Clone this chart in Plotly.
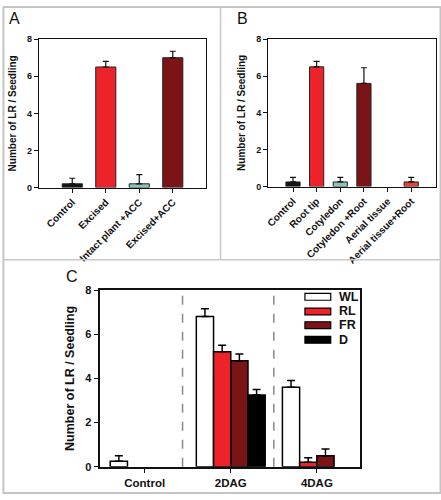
import plotly.graph_objects as go

# ---- Data ----
a_cats = ["Control", "Excised", "Intact plant +ACC", "Excised+ACC"]
a_vals = [0.2, 6.5, 0.2, 7.0]
a_errs = [0.3, 0.3, 0.5, 0.35]
a_colors = ["#151515", "#ee2229", "#8ec3bb", "#7a1416"]

b_cats = ["Control", "Root tip", "Cotyledon", "Cotyledon +Root", "Aerial tissue", "Aerial tissue+Root"]
b_vals = [0.25, 6.5, 0.25, 5.6, 0.0, 0.25]
b_errs = [0.25, 0.3, 0.25, 0.85, 0.0, 0.25]
b_colors = ["#151515", "#ee2229", "#8ec3bb", "#7a1416", "#ffffff", "#e2443c"]

c_groups = ["Control", "2DAG", "4DAG"]
c_series = ["WL", "RL", "FR", "D"]
c_vals = {
    "WL": [0.25, 6.8, 3.6],
    "RL": [0.0, 5.2, 0.2],
    "FR": [0.0, 4.8, 0.5],
    "D": [0.0, 3.25, 0.0],
}
c_errs = {
    "WL": [0.25, 0.35, 0.3],
    "RL": [0.0, 0.3, 0.2],
    "FR": [0.0, 0.3, 0.3],
    "D": [0.0, 0.25, 0.0],
}
c_colors = {"WL": "#ffffff", "RL": "#ee2229", "FR": "#7a1416", "D": "#000000"}
y_ticks = [0, 2, 4, 6, 8]

W, H = 441, 500
FONT = "Liberation Sans, Arial, sans-serif"


def px_x(v):
    return v / W


def px_y(v):
    return 1 - v / H


def nz(vals):
    # zero-height bars are not drawn in the original
    return [v if v > 0 else None for v in vals]


fig = go.Figure()

# Panel A
fig.add_trace(go.Bar(
    x=a_cats, y=nz(a_vals), xaxis="x", yaxis="y", width=0.6,
    marker=dict(color=a_colors, line=dict(color="#222222", width=1)),
    error_y=dict(type="data", symmetric=False, array=a_errs, arrayminus=[0] * len(a_errs),
                 color="#111111", thickness=1.2, width=3),
    showlegend=False))

# Panel B
fig.add_trace(go.Bar(
    x=b_cats, y=nz(b_vals), xaxis="x2", yaxis="y2", width=0.6,
    marker=dict(color=b_colors, line=dict(color="#222222", width=1)),
    error_y=dict(type="data", symmetric=False, array=b_errs, arrayminus=[0] * len(b_errs),
                 color="#111111", thickness=1.2, width=3),
    showlegend=False))

# Panel C
for s in c_series:
    fig.add_trace(go.Bar(
        x=c_groups, y=nz(c_vals[s]), name=s, xaxis="x3", yaxis="y3",
        marker=dict(color=c_colors[s], line=dict(color="#000000", width=1.5)),
        error_y=dict(type="data", symmetric=False, array=c_errs[s], arrayminus=[0] * 3,
                     color="#000000", thickness=1.5, width=4),
        showlegend=False))

tickfont_ab = dict(family=FONT, size=10, color="#111111", weight="bold")
axis_common = dict(showline=True, linecolor="#111111", linewidth=1, mirror=True,
                   showgrid=False, zeroline=False, ticks="outside", ticklen=4,
                   tickcolor="#111111")

fig.update_layout(
    width=W, height=H,
    margin=dict(l=0, r=0, t=0, b=0),
    paper_bgcolor="#ffffff", plot_bgcolor="#ffffff",
    barmode="group", bargap=0.2, bargroupgap=0,
    font=dict(family=FONT, color="#111111"),
    xaxis=dict(domain=[px_x(36), px_x(204)], anchor="y", range=[-1.0, 3.98],
               tickangle=-45, tickfont=tickfont_ab, **axis_common),
    yaxis=dict(domain=[px_y(186), px_y(34)], anchor="x", range=[0, 8], tickvals=y_ticks,
               tickfont=dict(family=FONT, size=9, color="#111111", weight="bold"),
               title=dict(text="Number of LR / Seedling", standoff=8,
                          font=dict(family=FONT, size=10, weight="bold")),
               **axis_common),
    xaxis2=dict(domain=[px_x(267), px_x(436)], anchor="y2", range=[-1.05, 6.05],
                tickangle=-45, tickfont=tickfont_ab, **axis_common),
    yaxis2=dict(domain=[px_y(185), px_y(34)], anchor="x2", range=[0, 8], tickvals=y_ticks,
                tickfont=dict(family=FONT, size=9, color="#111111", weight="bold"),
                title=dict(text="Number of LR / Seedling", standoff=8,
                           font=dict(family=FONT, size=10, weight="bold")),
                **axis_common),
    xaxis3=dict(domain=[px_x(98), px_x(359)], anchor="y3", range=[-0.515, 2.496],
                tickfont=dict(family=FONT, size=11.5, color="#111111", weight="bold"),
                showline=True, linecolor="#111111", linewidth=1.5, mirror=True,
                showgrid=False, zeroline=False, ticks="outside", ticklen=5,
                tickcolor="#111111"),
    yaxis3=dict(domain=[px_y(472), px_y(291)], anchor="x3", range=[0, 8], tickvals=y_ticks,
                tickfont=dict(family=FONT, size=11, color="#111111", weight="bold"),
                title=dict(text="Number of LR / Seedling", standoff=8,
                           font=dict(family=FONT, size=12.5, weight="bold")),
                showline=True, linecolor="#111111", linewidth=1.5, mirror=True,
                showgrid=False, zeroline=False, ticks="outside", ticklen=5,
                tickcolor="#111111"),
)

shapes = []
# outer border and panel separators
shapes.append(dict(type="rect", xref="paper", yref="paper", x0=0.001, x1=0.999, y0=0.002, y1=0.998,
                   line=dict(color="#c4c4c4", width=2)))
shapes.append(dict(type="line", xref="paper", yref="paper", x0=px_x(219), x1=px_x(219), y0=px_y(260), y1=1,
                   line=dict(color="#c8c8c8", width=1.5)))
shapes.append(dict(type="line", xref="paper", yref="paper", x0=0, x1=1, y0=px_y(260), y1=px_y(260),
                   line=dict(color="#c8c8c8", width=1.5)))
# dashed separators in C
for xv in [0.44, 1.5]:
    shapes.append(dict(type="line", xref="x3", yref="y3 domain", x0=xv, x1=xv, y0=0, y1=1,
                       line=dict(color="#888888", width=1.5, dash="dash")))

# manual legend for C
leg_y = [298, 313, 327, 342]
annotations = []
for s, yy in zip(c_series, leg_y):
    shapes.append(dict(type="rect", xref="paper", yref="paper",
                       x0=px_x(304), x1=px_x(330), y0=px_y(yy + 3.5), y1=px_y(yy - 3.5),
                       fillcolor=c_colors[s], line=dict(color="#000000", width=1.2)))
    annotations.append(dict(text=s, xref="paper", yref="paper", x=px_x(336), y=px_y(yy),
                            xanchor="left", yanchor="middle", showarrow=False,
                            font=dict(family=FONT, size=12.5, weight="bold", color="#111111")))

for lab, xx, yy in [("A", 12, 13), ("B", 241, 13), ("C", 69, 277)]:
    annotations.append(dict(text=lab, xref="paper", yref="paper", x=px_x(xx), y=px_y(yy),
                            xanchor="center", yanchor="middle", showarrow=False,
                            font=dict(family=FONT, size=16, color="#111111")))

fig.update_layout(shapes=shapes, annotations=annotations)
fig.write_html("out.html", config={"displayModeBar": False},
               post_script="document.body.style.margin='0';")
